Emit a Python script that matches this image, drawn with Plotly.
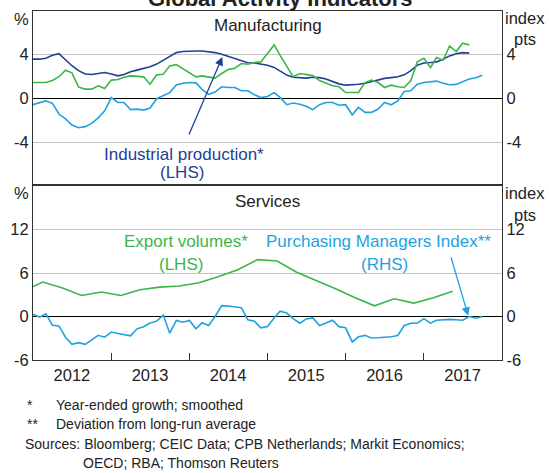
import pandas as pd
import plotly.graph_objects as go

# ---------------- data ----------------
year_labels = ["2012", "2013", "2014", "2015", "2016", "2017"]
year_bounds = ["2013-01-01", "2014-01-01", "2015-01-01", "2016-01-01", "2017-01-01"]
year_mids = ["2012-07-01", "2013-07-01", "2014-07-01", "2015-07-01", "2016-07-01", "2017-07-01"]
top_ticks = [-4, 0, 4]
top_tick_text = ["-4", "0", "4"]
bot_ticks = [-6, 0, 6, 12]
bot_tick_text = ["-6", "0", "6", "12"]

# Manufacturing: industrial production (LHS, %), monthly from Jan 2012
mfg_ip = [3.55, 3.55, 3.64, 3.9, 4.05, 3.5, 2.95, 2.5, 2.2, 2.15, 2.25, 2.33,
          2.2, 2.03, 2.15, 2.4, 2.55, 2.7, 2.85, 3.1, 3.45, 3.85, 4.15, 4.25,
          4.3, 4.3, 4.3, 4.25, 4.15, 4.0, 3.8, 3.6, 3.35, 3.22, 3.2, 3.1,
          3.0, 2.8, 2.5, 2.1, 1.9, 1.85, 1.82, 1.9, 1.87, 1.75, 1.5, 1.3,
          1.18, 1.2, 1.27, 1.35, 1.5, 1.65, 1.8, 1.87, 1.95, 2.12, 2.5, 3.0,
          3.2, 3.24, 3.3, 3.55, 3.85, 4.05, 4.15, 4.1]
# Manufacturing: export volumes (LHS, %), monthly from Jan 2012
mfg_exports = [1.42, 1.42, 1.42, 1.6, 1.95, 2.55, 2.3, 1.0, 0.82, 0.82, 1.12, 0.87,
               1.64, 1.7, 1.9, 2.03, 2.0, 1.94, 1.27, 2.12, 2.18, 2.94, 3.05, 2.7,
               2.3, 1.94, 2.03, 1.95, 1.82, 2.24, 2.6, 2.73, 3.15, 3.09, 3.24, 3.3,
               4.1, 4.85, 3.9, 2.9, 1.94, 2.24, 2.15, 2.05, 1.6, 1.35, 1.12, 1.03,
               0.51, 0.51, 0.51, 1.42, 1.64, 1.42, 0.97, 1.18, 1.03, 0.97, 1.6, 3.3,
               3.64, 2.78, 3.7, 3.45, 4.75, 4.24, 5.0, 4.85]
# Manufacturing: PMI (RHS, index pts), monthly from Jan 2012
mfg_pmi = [-0.6, -0.4, -0.25, -0.48, -1.45, -1.9, -2.45, -2.7, -2.6, -2.3, -1.8, -1.15,
           0.05, -0.4, -0.4, -1.05, -1.0, -1.09, -0.9, -0.05, 0.2, 0.5, 1.2, 1.35,
           1.42, 1.39, 0.8, 0.35, 0.55, 1.03, 0.97, 0.97, 0.67, 0.67, 0.3, 0.05,
           0.15, 0.5, 0.06, -0.6, -0.45, -0.55, -0.75, -1.05, -0.6, -0.4, -0.4, -0.65,
           -0.6, -1.52, -0.85, -1.3, -1.3, -1.0, -0.4, -0.61, -0.25, 0.6, 0.67, 1.27,
           1.42, 1.52, 1.55, 1.35, 1.22, 1.25, 1.5, 1.75, 1.85, 2.09]
# Services: export volumes (LHS, %), quarterly, mid-quarter from Q4 2011
svc_exports = [3.5, 4.75, 3.97, 2.9, 3.37, 2.9, 3.7, 4.06, 4.2, 4.66, 5.5, 6.46,
               7.85, 7.66, 6.14, 5.0, 3.83, 2.58, 1.48, 2.45, 1.85, 2.58, 3.5]
# Services: PMI (RHS, index pts), monthly from Jan 2012
svc_pmi = [0.3, -0.1, 0.37, -1.2, -1.3, -2.85, -3.84, -3.6, -3.84, -3.2, -2.6, -2.85,
           -2.15, -2.35, -2.5, -2.67, -1.7, -1.4, -0.9, -0.64, 0.2, -2.3, -0.55, -0.78,
           -0.55, -1.7, -0.87, -1.24, 0.0, 1.5, 1.45, 1.35, 1.2, -0.45, -0.65, -1.56,
           -1.38, -0.2, 0.73, 0.48, -0.3, -0.92, -0.33, -0.2, -1.24, -0.9, -0.52, -1.4,
           -1.56, -3.5, -2.8, -2.6, -2.97, -2.93, -2.9, -2.8, -2.62, -1.24, -0.92, -0.92,
           -0.3, -0.92, -0.52, -0.45, -0.4, -0.45, -0.52, 0.0, -0.24, 0.0]

def monthly(n):
    return pd.date_range("2012-01-01", periods=n, freq="MS")

q_dates = pd.date_range("2011-11-01", periods=len(svc_exports), freq="3MS") + pd.Timedelta(days=14)

# ---------------- style ----------------
DBLUE = "#213f95"
GREEN = "#3cb54a"
LBLUE = "#1ea3df"
GRID = "#c4c4c4"
FRAME = "#333333"
TXT = "#222222"
FONT = "Arial, Liberation Sans, sans-serif"

fig = go.Figure()
fig.add_trace(go.Scatter(x=monthly(len(mfg_ip)), y=mfg_ip, mode="lines",
                         line=dict(color=DBLUE, width=1.6), xaxis="x", yaxis="y"))
fig.add_trace(go.Scatter(x=monthly(len(mfg_exports)), y=mfg_exports, mode="lines",
                         line=dict(color=GREEN, width=1.6), xaxis="x", yaxis="y"))
fig.add_trace(go.Scatter(x=monthly(len(mfg_pmi)), y=mfg_pmi, mode="lines",
                         line=dict(color=LBLUE, width=1.6), xaxis="x", yaxis="y3"))
fig.add_trace(go.Scatter(x=q_dates, y=svc_exports, mode="lines",
                         line=dict(color=GREEN, width=1.6), xaxis="x2", yaxis="y2"))
fig.add_trace(go.Scatter(x=monthly(len(svc_pmi)), y=svc_pmi, mode="lines",
                         line=dict(color=LBLUE, width=1.6), xaxis="x2", yaxis="y4"))

xr = ["2012-01-01", "2018-01-01"]
split = 175.7 / 350
top_rng = [-7.9, 7.94]
bot_rng = [-6.0, 18.17]
tickfont = dict(family=FONT, size=16.5, color=TXT)

common_y = dict(showgrid=True, gridcolor=GRID, gridwidth=1, zeroline=True,
                zerolinecolor="#000000", zerolinewidth=1.3, showline=True,
                linecolor=FRAME, linewidth=1.2, ticks="", tickfont=tickfont,
                fixedrange=True, tickmode="array")

fig.update_layout(
    width=549, height=473,
    margin=dict(l=27, r=47, t=10, b=113),
    paper_bgcolor="white", plot_bgcolor="white",
    showlegend=False,
    xaxis=dict(domain=[0, 1], anchor="y", range=xr, type="date",
               showline=True, mirror=True, linecolor=FRAME, linewidth=1.2,
               showgrid=False, zeroline=False, showticklabels=False, ticks=""),
    xaxis2=dict(domain=[0, 1], anchor="y2", range=xr, type="date",
                showline=True, mirror=True, linecolor=FRAME, linewidth=1.2,
                showgrid=False, zeroline=False,
                tickmode="array", tickvals=year_mids, ticktext=year_labels,
                ticks="", tickfont=tickfont,
                minor=dict(tickmode="array", tickvals=year_bounds, ticks="inside",
                           ticklen=7, tickwidth=1.2, tickcolor=FRAME, showgrid=False)),
    yaxis=dict(domain=[split, 1], anchor="x", range=top_rng,
               tickvals=top_ticks, ticktext=top_tick_text, **common_y),
    yaxis3=dict(overlaying="y", side="right", anchor="x", range=top_rng,
                tickvals=top_ticks, ticktext=top_tick_text, **common_y),
    yaxis2=dict(domain=[0, split], anchor="x2", range=bot_rng,
                tickvals=bot_ticks, ticktext=bot_tick_text, **common_y),
    yaxis4=dict(overlaying="y2", side="right", anchor="x2", range=bot_rng,
                tickvals=bot_ticks, ticktext=bot_tick_text, **common_y),
)

def py(p):
    return (360 - p) / 350

def px(p):
    return (p - 27) / 475

ann = []
def txt(text, x, y, size=17, color=TXT, xanchor="center", bold=False):
    ann.append(dict(text=("<b>%s</b>" % text) if bold else text, x=x, y=y,
                    xref="paper", yref="paper", xanchor=xanchor, yanchor="middle",
                    showarrow=False, font=dict(family=FONT, size=size, color=color)))

txt("Global Activity Indicators", px(277), py(-3), size=22, bold=True)
txt("Manufacturing", 0.5, py(25))
txt("Services", 0.5, py(200.7))
txt("%", px(15.5), py(18), size=16.5)
txt("%", px(15.5), py(193), size=16.5)
txt("index", px(503), py(16.7), size=16.5, xanchor="left")
txt("pts", px(525), py(38), size=16.5)
txt("index", px(503), py(193), size=16.5, xanchor="left")
txt("pts", px(525), py(215), size=16.5)
txt("Industrial production*", px(180), py(154), color=DBLUE)
txt("(LHS)", px(178), py(172), color=DBLUE)
txt("Export volumes*", px(182), py(241), color=GREEN)
txt("(LHS)", px(177), py(264), color=GREEN)
txt("Purchasing Managers Index**", px(377), py(241), color=LBLUE)
txt("(RHS)", px(383), py(264), color=LBLUE)

txt("*", px(19), py(405), size=14, xanchor="left")
txt("Year-ended growth; smoothed", px(48), py(405), size=14, xanchor="left")
txt("**", px(19), py(424), size=14, xanchor="left")
txt("Deviation from long-run average", px(48), py(424), size=14, xanchor="left")
txt("Sources: Bloomberg; CEIC Data; CPB Netherlands; Markit Economics;", px(17), py(444), size=14, xanchor="left")
txt("OECD; RBA; Thomson Reuters", px(76), py(463), size=14, xanchor="left")

# arrows
ann.append(dict(x="2014-06-04", y=3.75, xref="x", yref="y", text="", showarrow=True,
                ax=-34, ay=79, arrowhead=2, arrowsize=1.3, arrowwidth=1.3, arrowcolor=DBLUE))
ann.append(dict(x="2017-07-27", y=0.1, xref="x2", yref="y4", text="", showarrow=True,
                ax=-17.6, ay=-60, arrowhead=2, arrowsize=1.3, arrowwidth=1.3, arrowcolor=LBLUE))

fig.update_layout(annotations=ann)
fig.write_html("out.html", config={"displayModeBar": False},
               post_script="document.body.style.margin='0';")
